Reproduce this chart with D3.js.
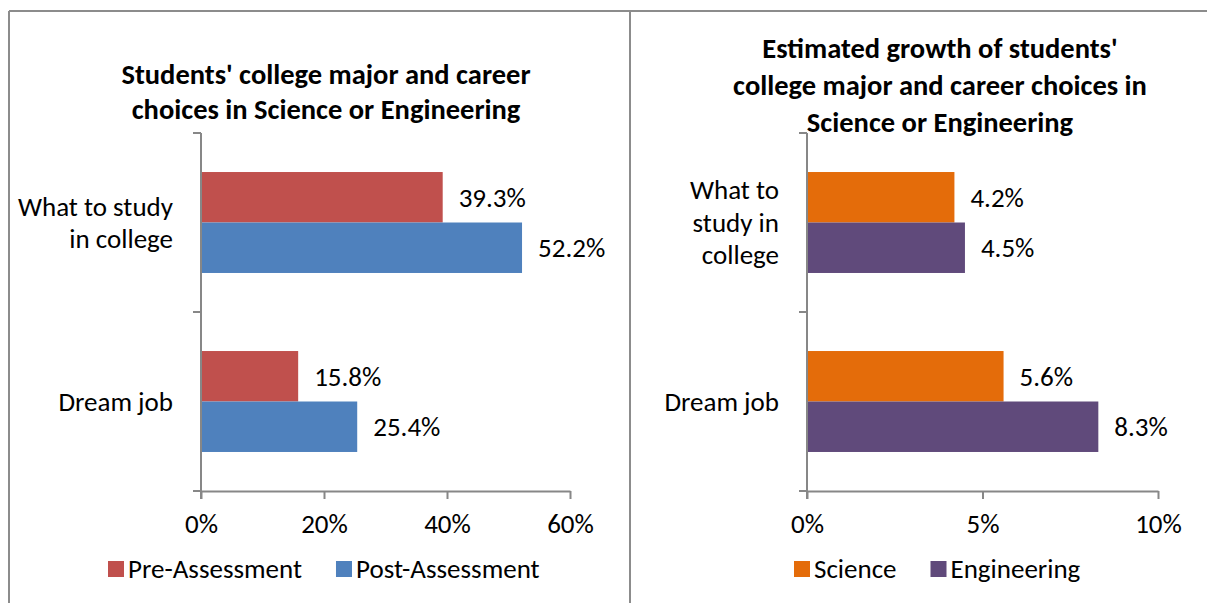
<!DOCTYPE html>
<html>
<head>
<meta charset="utf-8">
<script src="https://cdn.jsdelivr.net/npm/d3@7"></script>
<style>
  body { margin: 0; background: #fff; }
  svg text { font-family: Calibri, Carlito, Lato, sans-serif; fill: #000; }
</style>
</head>
<body>
<div id="chart"></div>
<script>
// Categories and series for both panels
const categories = ['What to study in college', 'Dream job'];

const leftSeries = ['Pre-Assessment', 'Post-Assessment'];
const leftValues = {
    'Pre-Assessment': [0.393, 0.158],
    'Post-Assessment': [0.522, 0.254]
};
const leftTicks = [0, 0.2, 0.4, 0.6];

const rightSeries = ['Science', 'Engineering'];
const rightValues = {
    'Science': [0.042, 0.056],
    'Engineering': [0.045, 0.083]
};
const rightTicks = [0, 0.05, 0.1];

const svgWidth = 1207;
const svgHeight = 603;
const axisColor = '#878787';
const fontSize = '27px';

const svg = d3.select('#chart').append('svg')
    .attr('width', svgWidth)
    .attr('height', svgHeight);

// Panel frame lines
svg.append('line').attr('x1', 9).attr('x2', svgWidth).attr('y1', 11).attr('y2', 11)
    .attr('stroke', '#8c8c8c').attr('stroke-width', 2);
svg.append('line').attr('x1', 9).attr('x2', 9).attr('y1', 11).attr('y2', svgHeight)
    .attr('stroke', '#8c8c8c').attr('stroke-width', 2);
svg.append('line').attr('x1', 630).attr('x2', 630).attr('y1', 11).attr('y2', svgHeight)
    .attr('stroke', '#8c8c8c').attr('stroke-width', 2);

function drawPanel(opts) {
    const g = svg.append('g');

    const xScale = d3.scaleLinear()
        .domain([0, opts.ticks[opts.ticks.length - 1]])
        .range([opts.left, opts.right]);

    const yScale = d3.scaleBand()
        .domain(categories)
        .range([opts.top, opts.bottom])
        .paddingInner(0.436)
        .paddingOuter(0.218);

    const seriesScale = d3.scaleBand()
        .domain(opts.series)
        .range([0, yScale.bandwidth()]);

    // Title
    const title = g.append('text')
        .attr('x', opts.titleX)
        .attr('y', opts.titleY)
        .attr('text-anchor', 'middle')
        .style('font-size', '28.5px')
        .style('font-weight', 'bold');
    opts.title.forEach((line, i) => {
        title.append('tspan').attr('x', opts.titleX).attr('dy', i === 0 ? 0 : opts.titleStep).text(line);
    });

    // Bars
    opts.series.forEach((s, si) => {
        g.selectAll(`.bar-${si}`)
            .data(categories.map((c, i) => ({ cat: c, value: opts.values[s][i] })))
            .enter()
            .append('rect')
            .attr('x', xScale(0))
            .attr('y', d => yScale(d.cat) + seriesScale(s))
            .attr('width', d => xScale(d.value) - xScale(0))
            .attr('height', seriesScale.bandwidth())
            .attr('fill', opts.colors[si]);

        g.selectAll(`.label-${si}`)
            .data(categories.map((c, i) => ({ cat: c, value: opts.values[s][i] })))
            .enter()
            .append('text')
            .attr('x', d => xScale(d.value) + 16)
            .attr('y', d => yScale(d.cat) + seriesScale(s) + seriesScale.bandwidth() / 2)
            .attr('dy', '0.35em')
            .style('font-size', fontSize)
            .text(d => d3.format('.1%')(d.value));
    });

    // X axis
    const xAxis = g.append('g')
        .attr('transform', `translate(0,${opts.bottom})`)
        .call(d3.axisBottom(xScale).tickValues(opts.ticks)
            .tickFormat(d3.format('.0%')).tickSize(8).tickSizeOuter(0).tickPadding(15));
    xAxis.select('.domain').attr('stroke', axisColor).attr('stroke-width', 2);
    xAxis.selectAll('.tick line').attr('stroke', axisColor).attr('stroke-width', 2);
    xAxis.selectAll('.tick text').style('font-size', fontSize).attr('fill', '#000');

    // Y axis line with category boundary ticks
    const step = yScale.step();
    const bounds = d3.range(categories.length + 1).map(i => yScale(categories[0]) - step * yScale.paddingInner() / 2 + i * step);
    g.append('line')
        .attr('x1', xScale(0)).attr('x2', xScale(0))
        .attr('y1', bounds[0]).attr('y2', bounds[bounds.length - 1] + 8)
        .attr('stroke', axisColor).attr('stroke-width', 2);
    g.selectAll('.ytick')
        .data(bounds)
        .enter()
        .append('line')
        .attr('x1', xScale(0) - 8).attr('x2', xScale(0))
        .attr('y1', d => d).attr('y2', d => d)
        .attr('stroke', axisColor).attr('stroke-width', 2);

    // Category labels
    categories.forEach((c, i) => {
        const lines = opts.catLines[i];
        const cy = yScale(c) + yScale.bandwidth() / 2;
        const lh = 32.5;
        const t = g.append('text')
            .attr('text-anchor', 'end')
            .style('font-size', fontSize);
        lines.forEach((line, li) => {
            t.append('tspan')
                .attr('x', opts.left - 28)
                .attr('y', cy + (li - (lines.length - 1) / 2) * lh)
                .attr('dy', '0.35em')
                .text(line);
        });
    });

    // Legend
    let lx = opts.legendX;
    opts.series.forEach((s, si) => {
        g.append('rect')
            .attr('x', lx).attr('y', 561)
            .attr('width', 16).attr('height', 16)
            .attr('fill', opts.colors[si]);
        const txt = g.append('text')
            .attr('x', lx + 20).attr('y', 569)
            .attr('dy', '0.35em')
            .style('font-size', fontSize)
            .text(s);
        lx += 20 + txt.node().getComputedTextLength() + 34;
    });
}

drawPanel({
    left: 201, right: 570, top: 133, bottom: 491,
    ticks: leftTicks,
    series: leftSeries,
    values: leftValues,
    colors: ['#C0504D', '#4F81BD'],
    title: ["Students' college major and career", 'choices in Science or Engineering'],
    titleX: 326, titleY: 84, titleStep: 35,
    catLines: [['What to study', 'in college'], ['Dream job']],
    legendX: 108
});

drawPanel({
    left: 807, right: 1158, top: 133, bottom: 491,
    ticks: rightTicks,
    series: rightSeries,
    values: rightValues,
    colors: ['#E46C0A', '#604A7B'],
    title: ['Estimated growth of students\'', 'college major and career choices in', 'Science or Engineering'],
    titleX: 940, titleY: 58, titleStep: 37,
    catLines: [['What to', 'study in', 'college'], ['Dream job']],
    legendX: 794
});
</script>
</body>
</html>
